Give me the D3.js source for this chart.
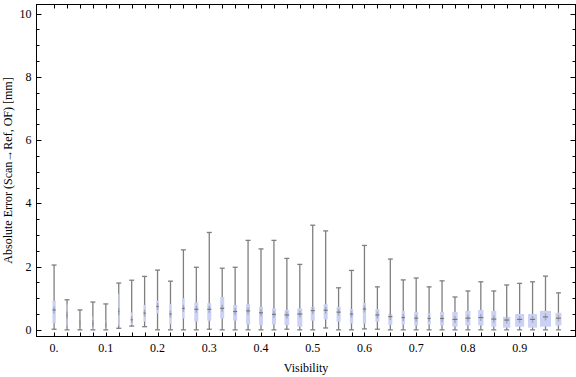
<!DOCTYPE html>
<html>
<head>
<meta charset="utf-8">
<script src="https://cdn.jsdelivr.net/npm/d3@7"></script>
<style>
  body { margin: 0; background: #fff; }
  text { font-family: "Liberation Serif", "Times New Roman", serif; font-size: 12px; fill: #000; }
</style>
</head>
<body>
<div id="chart"></div>
<script>
// visibility bins (one box per bin)
var visibility = [0, 0.025, 0.05, 0.075, 0.1, 0.125, 0.15, 0.175, 0.2, 0.225,
                  0.25, 0.275, 0.3, 0.325, 0.35, 0.375, 0.4, 0.425, 0.45, 0.475,
                  0.5, 0.525, 0.55, 0.575, 0.6, 0.625, 0.65, 0.675, 0.7, 0.725,
                  0.75, 0.775, 0.8, 0.825, 0.85, 0.875, 0.9, 0.925, 0.95, 0.975];

// box-whisker statistics of the absolute error [mm]
var whiskerHigh = [2.05, 0.95, 0.63, 0.88, 0.82, 1.48, 1.57, 1.69, 1.89, 1.54,
                   2.53, 1.98, 3.08, 1.95, 1.98, 2.83, 2.56, 2.83, 2.26, 2.07,
                   3.31, 3.13, 1.33, 1.88, 2.67, 1.36, 2.24, 1.58, 1.64, 1.36,
                   1.55, 1.04, 1.23, 1.52, 1.23, 1.42, 1.47, 1.52, 1.70, 1.17];
var upperQuartile = [0.92, 0.81, 0.27, 0.42, 0.30, 1.14, 0.55, 0.79, 0.92, 0.82,
                     1.00, 0.87, 0.84, 1.04, 0.79, 0.81, 0.73, 0.68, 0.63, 0.68,
                     0.73, 0.81, 0.73, 0.66, 0.85, 0.66, 0.50, 0.60, 0.57, 0.52,
                     0.57, 0.57, 0.60, 0.63, 0.60, 0.41, 0.50, 0.50, 0.60, 0.54];
var median = [0.63, 0.47, 0.20, 0.20, 0.15, 0.58, 0.32, 0.53, 0.74, 0.50,
              0.68, 0.65, 0.65, 0.68, 0.58, 0.60, 0.54, 0.49, 0.47, 0.50,
              0.61, 0.62, 0.56, 0.50, 0.66, 0.47, 0.42, 0.39, 0.37, 0.36,
              0.36, 0.33, 0.37, 0.39, 0.34, 0.31, 0.33, 0.33, 0.41, 0.37];
var lowerQuartile = [0.21, 0.13, 0.11, 0.02, 0.02, 0.14, 0.16, 0.26, 0.52, 0.18,
                     0.36, 0.26, 0.29, 0.36, 0.29, 0.17, 0.15, 0.17, 0.15, 0.10,
                     0.29, 0.33, 0.26, 0.20, 0.20, 0.26, 0.16, 0.16, 0.14, 0.17,
                     0.14, 0.10, 0.14, 0.14, 0.10, 0.07, 0.10, 0.07, 0.10, 0.14];
var whiskerLow = [0.02, 0.00, 0.00, 0.00, 0.00, 0.05, 0.12, 0.10, 0.00, 0.00,
                  0.00, 0.00, 0.02, 0.00, 0.00, 0.00, 0.00, 0.00, 0.02, 0.00,
                  0.00, 0.06, 0.00, 0.00, 0.03, 0.02, 0.00, 0.00, 0.00, 0.00,
                  0.00, 0.00, 0.00, 0.00, 0.00, 0.00, 0.00, 0.00, 0.00, 0.00];
// relative sample weight of each bin (drives the box width)
var binWeight = [33, 10, 7, 8, 8, 10, 20, 23, 23, 23,
                 25, 40, 40, 40, 40, 40, 40, 40, 47, 50,
                 40, 40, 40, 33, 33, 40, 40, 33, 40, 30,
                 40, 53, 50, 53, 50, 73, 90, 90, 110, 60];

var xTickValues = [0, 0.1, 0.2, 0.3, 0.4, 0.5, 0.6, 0.7, 0.8, 0.9];
var xTickLabels = ["0.", "0.1", "0.2", "0.3", "0.4", "0.5", "0.6", "0.7", "0.8", "0.9"];
var yTickValues = [0, 2, 4, 6, 8, 10];
var yMinorTicks = [0.5, 1, 1.5, 2.5, 3, 3.5, 4.5, 5, 5.5, 6.5, 7, 7.5, 8.5, 9, 9.5];

var totalWidth = 576,
    totalHeight = 377,
    frameLeft = 36.5,
    frameRight = 575.5,
    frameTop = 4.5,
    frameBottom = 336.5;

var boxFill = "#cad1f5",
    whiskerColor = "#7f7f7f";

var xScale = d3.scaleLinear().domain([-0.034, 1.008]).range([frameLeft, frameRight]);
var yScale = d3.scaleLinear().domain([-0.21, 10.29]).range([frameBottom, frameTop]);
var wScale = d3.scaleLinear().domain([0, 110]).range([0, 11]);

var rows = visibility.map(function(v, i) {
    return {
        x: v,
        lo: whiskerLow[i],
        q1: lowerQuartile[i],
        med: median[i],
        q3: upperQuartile[i],
        hi: whiskerHigh[i],
        w: binWeight[i]
    };
});

var svg = d3.select("#chart").append("svg")
    .attr("width", totalWidth)
    .attr("height", totalHeight);

// whiskers
var g = svg.append("g");
var box = g.selectAll("g.box").data(rows).enter().append("g").attr("class", "box");

box.append("line")
    .attr("x1", function(d) { return xScale(d.x); })
    .attr("x2", function(d) { return xScale(d.x); })
    .attr("y1", function(d) { return yScale(d.lo); })
    .attr("y2", function(d) { return yScale(d.hi); })
    .attr("stroke", whiskerColor)
    .attr("stroke-width", 1.3);

["lo", "hi"].forEach(function(k) {
    box.append("line")
        .attr("x1", function(d) { return xScale(d.x) - 2.5; })
        .attr("x2", function(d) { return xScale(d.x) + 2.5; })
        .attr("y1", function(d) { return yScale(d[k]); })
        .attr("y2", function(d) { return yScale(d[k]); })
        .attr("stroke", whiskerColor)
        .attr("stroke-width", 1.3);
});

// quartile boxes
box.append("rect")
    .attr("x", function(d) { return xScale(d.x) - wScale(d.w) / 2; })
    .attr("width", function(d) { return wScale(d.w); })
    .attr("y", function(d) { return yScale(d.q3); })
    .attr("height", function(d) { return yScale(d.q1) - yScale(d.q3); })
    .attr("fill", boxFill);

// median marks
box.append("line")
    .attr("x1", function(d) { return xScale(d.x); })
    .attr("x2", function(d) { return xScale(d.x); })
    .attr("y1", function(d) { return yScale(d.med) - 3.5; })
    .attr("y2", function(d) { return yScale(d.med) + 3.5; })
    .attr("stroke", "#8a8a8a")
    .attr("stroke-opacity", 0.55)
    .attr("stroke-width", 1.5);

box.append("line")
    .attr("x1", function(d) { return xScale(d.x) - Math.min(wScale(d.w), 5) / 2; })
    .attr("x2", function(d) { return xScale(d.x) + Math.min(wScale(d.w), 5) / 2; })
    .attr("y1", function(d) { return yScale(d.med); })
    .attr("y2", function(d) { return yScale(d.med); })
    .attr("stroke", "#777")
    .attr("stroke-width", 1.2);

// frame
svg.append("rect")
    .attr("x", frameLeft).attr("y", frameTop)
    .attr("width", frameRight - frameLeft).attr("height", frameBottom - frameTop)
    .attr("fill", "none").attr("stroke", "#000").attr("stroke-width", 1);

var ticks = svg.append("g").attr("stroke", "#000").attr("stroke-width", 1);

// x ticks at every bin, bottom and top
visibility.forEach(function(v) {
    var x = Math.round(xScale(v)) + 0.5;
    ticks.append("line").attr("x1", x).attr("x2", x).attr("y1", frameBottom).attr("y2", frameBottom - 4);
    ticks.append("line").attr("x1", x).attr("x2", x).attr("y1", frameTop).attr("y2", frameTop + 4);
});

// y ticks, left and right
yTickValues.forEach(function(v) {
    var y = Math.round(yScale(v)) + 0.5;
    ticks.append("line").attr("x1", frameLeft).attr("x2", frameLeft + 5).attr("y1", y).attr("y2", y);
    ticks.append("line").attr("x1", frameRight).attr("x2", frameRight - 5).attr("y1", y).attr("y2", y);
});
yMinorTicks.forEach(function(v) {
    var y = Math.round(yScale(v)) + 0.5;
    ticks.append("line").attr("x1", frameLeft).attr("x2", frameLeft + 3).attr("y1", y).attr("y2", y);
    ticks.append("line").attr("x1", frameRight).attr("x2", frameRight - 3).attr("y1", y).attr("y2", y);
});

// tick labels
svg.append("g").selectAll("text").data(xTickValues).enter().append("text")
    .attr("x", function(d) { return xScale(d); })
    .attr("y", frameBottom + 15)
    .attr("text-anchor", "middle")
    .text(function(d, i) { return xTickLabels[i]; });

svg.append("g").selectAll("text").data(yTickValues).enter().append("text")
    .attr("x", frameLeft - 5)
    .attr("y", function(d) { return yScale(d) + 4; })
    .attr("text-anchor", "end")
    .text(function(d) { return d; });

// axis titles
svg.append("text")
    .attr("x", (frameLeft + frameRight) / 2)
    .attr("y", 372)
    .attr("text-anchor", "middle")
    .text("Visibility");

svg.append("text")
    .attr("transform", "translate(12," + ((frameTop + frameBottom) / 2) + ") rotate(-90)")
    .attr("text-anchor", "middle")
    .text("Absolute Error (Scan\u2192Ref, OF) [mm]");
</script>
</body>
</html>
